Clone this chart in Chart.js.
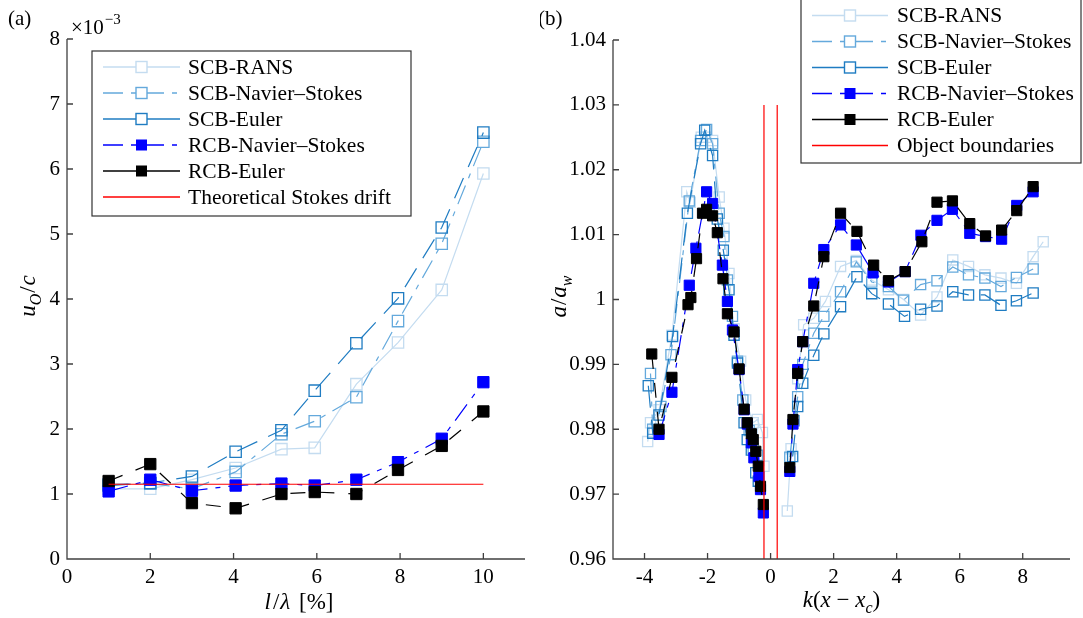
<!DOCTYPE html>
<html>
<head>
<meta charset="utf-8">
<script src="https://cdn.jsdelivr.net/npm/chart.js@4.4.1/dist/chart.umd.min.js"></script>
<style>
  html, body { margin: 0; padding: 0; background: #fff; }
  #wrap { position: relative; width: 1083px; height: 618px; }
  canvas { position: absolute; top: 0; }
  #panelA { left: 0; }
  #panelB { left: 540px; }
</style>
</head>
<body>
<div id="wrap">
  <canvas id="panelA" width="540" height="618"></canvas>
  <canvas id="panelB" width="543" height="618"></canvas>
</div>
<script>
// ---------- panel (a): drift velocity u_O/c (x 1e-3) vs l/lambda [%] ----------
const lenA    = [1, 2, 3, 4.05, 5.15, 5.95, 6.95, 7.95, 9, 10];
const ransA   = [1.08, 1.08, 1.22, 1.40, 1.69, 1.71, 2.69, 3.33, 4.14, 5.93];
const scbNsA  = [1.15, 1.16, 1.08, 1.34, 1.92, 2.12, 2.49, 3.66, 4.85, 6.42];
const scbEuA  = [1.13, 1.17, 1.27, 1.65, 1.98, 2.59, 3.32, 4.01, 5.10, 6.56];
const rcbNsA  = [1.04, 1.22, 1.05, 1.13, 1.16, 1.13, 1.22, 1.49, 1.85, 2.72];
const rcbEuA  = [1.20, 1.46, 0.86, 0.78, 1.00, 1.03, 1.00, 1.37, 1.74, 2.27];
const stokesX = [1, 10];
const stokesY = [1.15, 1.15];
const xTicksA = [0, 2, 4, 6, 8, 10];
const yTicksA = [0, 1, 2, 3, 4, 5, 6, 7, 8];

// ---------- panel (b): a/a_w vs k(x - x_c) ----------
// null = gap across the object
const ransBx  = [-3.90, -3.81, -3.54, -3.13, -2.66, -2.55, -2.20, -2.06, -1.84, -1.63, -1.48, -1.32, -1.16, -0.95, -0.79, -0.55, -0.42, -0.26, -0.21, 0,
                 0.53, 0.65, 0.86, 1.05, 1.37, 1.74, 2.22, 2.72, 3.21, 3.74, 4.22, 4.76, 5.28, 5.78, 6.28, 6.80, 7.31, 7.80, 8.33, 8.65];
const ransBy  = [0.9781, 0.9810, 0.9830, 0.9945, 1.0166, 1.0150, 1.0250, 1.0250, 1.0245, 1.0158, 1.0110, 1.0040, 0.9955, 0.9905, 0.9845, 0.9810, 0.9815, 0.9795, 0.9743, null,
                 0.9674, 0.9770, 0.9878, 0.9961, 0.9971, 0.9997, 1.0051, 1.0060, 1.0030, 1.0015, 1.0000, 0.9976, 1.0004, 1.0061, 1.0051, 1.0038, 1.0033, 1.0025, 1.0066, 1.0089];

const scbNsBx = [-3.81, -3.74, -3.48, -3.16, -2.58, -2.22, -2.03, -1.84, -1.63, -1.48, -1.37, -1.21, -1.05, -0.88, -0.68, -0.55, -0.42, 0,
                 0.61, 0.75, 0.86, 1.02, 1.37, 1.69, 2.22, 2.72, 3.21, 3.74, 4.22, 4.76, 5.28, 5.78, 6.28, 6.80, 7.31, 7.80, 8.33];
const scbNsBy = [0.9886, 0.9800, 0.9835, 0.9915, 1.0152, 1.0245, 1.0262, 1.0240, 1.0133, 1.0097, 1.0030, 0.9974, 0.9905, 0.9845, 0.9798, 0.9770, 0.9760, null,
                 0.9757, 0.9813, 0.9850, 0.9900, 0.9948, 0.9974, 1.0012, 1.0058, 1.0027, 1.0020, 0.9999, 1.0023, 1.0029, 1.0050, 1.0038, 1.0033, 1.0020, 1.0034, 1.0047];

const scbEuBx = [-3.88, -3.74, -3.54, -3.11, -2.64, -2.22, -2.09, -1.84, -1.69, -1.50, -1.32, -1.16, -1.05, -0.84, -0.74, -0.61, -0.47, -0.39, 0,
                 0.70, 0.86, 1.02, 1.37, 1.69, 2.22, 2.74, 3.21, 3.74, 4.25, 4.76, 5.28, 5.78, 6.28, 6.80, 7.31, 7.80, 8.33];
const scbEuBy = [0.9867, 0.9794, 0.9822, 0.9943, 1.0133, 1.0240, 1.0261, 1.0222, 1.0124, 1.0076, 1.0015, 0.9945, 0.9902, 0.9810, 0.9784, 0.9768, 0.9733, 0.9720, null,
                 0.9758, 0.9835, 0.9871, 0.9914, 0.9947, 0.9989, 1.0035, 1.0009, 0.9993, 0.9974, 0.9985, 0.9990, 1.0012, 1.0007, 1.0007, 0.9991, 0.9998, 1.0010];

const rcbNsBx = [-3.54, -3.13, -2.58, -2.37, -2.03, -1.84, -1.53, -1.37, -1.21, -1.00, -0.84, -0.74, -0.61, -0.53, -0.37, -0.32, -0.23, 0,
                 0.61, 0.71, 0.86, 1.02, 1.37, 1.69, 2.22, 2.72, 3.25, 3.74, 4.27, 4.77, 5.28, 5.77, 6.32, 6.82, 7.33, 7.81, 8.33];
const rcbNsBy = [0.9792, 0.9857, 1.0022, 1.0079, 1.0166, 1.0148, 1.0053, 0.9997, 0.9953, 0.9892, 0.9830, 0.9808, 0.9779, 0.9756, 0.9727, 0.9707, 0.9671, null,
                 0.9735, 0.9808, 0.9892, 0.9935, 1.0025, 1.0077, 1.0115, 1.0084, 1.0041, 1.0027, 1.0043, 1.0099, 1.0122, 1.0139, 1.0102, 1.0097, 1.0093, 1.0145, 1.0166];

const rcbEuBx = [-3.77, -3.54, -3.13, -2.62, -2.53, -2.35, -2.16, -2.03, -1.84, -1.69, -1.51, -1.37, -1.16, -1.00, -0.84, -0.74, -0.61, -0.55, -0.47, -0.39, -0.32, -0.23, 0,
                 0.61, 0.71, 0.86, 1.02, 1.37, 1.69, 2.22, 2.74, 3.27, 3.74, 4.27, 4.80, 5.28, 5.77, 6.32, 6.82, 7.33, 7.81, 8.33];
const rcbEuBy = [0.9916, 0.9800, 0.9880, 0.9992, 1.0003, 1.0063, 1.0133, 1.0139, 1.0129, 1.0103, 1.0032, 0.9978, 0.9950, 0.9893, 0.9831, 0.9810, 0.9793, 0.9784, 0.9766, 0.9743, 0.9712, 0.9684, null,
                 0.9741, 0.9815, 0.9886, 0.9935, 0.9990, 1.0066, 1.0133, 1.0105, 1.0053, 1.0029, 1.0043, 1.0089, 1.0150, 1.0152, 1.0117, 1.0098, 1.0107, 1.0137, 1.0174];

const boundX  = [-0.21, -0.21, 0, 0.21, 0.21];
const boundY  = [0.96, 1.03, null, 1.03, 0.96];
const xTicksB = [-4, -2, 0, 2, 4, 6, 8];
const yTicksB = [0.96, 0.97, 0.98, 0.99, 1, 1.01, 1.02, 1.03, 1.04];

const cRans = '#c4dcf0';
const cNs   = '#64a9dc';
const cEu   = '#1f7cc2';
const cRcbNs = '#0000ff';
const cRcbEu = '#000000';
const cRed  = '#ff0000';
const dashDot = [20, 8, 5, 8];
const FONT = '"Liberation Serif", "DejaVu Serif", serif';

function pts(xs, ys) {
    return xs.map((x, i) => ({ x: x, y: ys[i] }));
}

function series(label, xs, ys, color, filled, dash, legendDash, order, r) {
    return {
        label: label,
        data: pts(xs, ys),
        borderColor: color,
        backgroundColor: color,
        borderWidth: 1.2,
        borderDash: dash,
        legendDash: legendDash,
        pointStyle: 'rect',
        pointRadius: r,
        pointBorderWidth: filled ? 1 : 1.3,
        pointBackgroundColor: filled ? color : 'rgba(0,0,0,0)',
        pointBorderColor: color,
        filledMark: filled,
        tension: 0,
        order: order
    };
}

function redLine(label, xs, ys) {
    return {
        label: label,
        data: pts(xs, ys),
        borderColor: cRed,
        borderWidth: 1.2,
        pointRadius: 0,
        legendDash: [],
        noMark: true,
        order: 0
    };
}

// draw a math-ish label made of parts {t, it, sub}
function drawMath(ctx, parts, x, y, size, rot) {
    ctx.save();
    ctx.translate(x, y);
    if (rot) ctx.rotate(rot);
    const fontOf = p => (p.it ? 'italic ' : '') + (p.sub ? Math.round(size * 0.7) : size) + 'px ' + FONT;
    let w = 0;
    parts.forEach(p => { ctx.font = fontOf(p); w += ctx.measureText(p.t).width; });
    let cx = -w / 2;
    ctx.fillStyle = '#000';
    ctx.textAlign = 'left';
    ctx.textBaseline = 'alphabetic';
    parts.forEach(p => {
        ctx.font = fontOf(p);
        ctx.fillText(p.t, cx, p.sub ? size * 0.25 : 0);
        cx += ctx.measureText(p.t).width + (p.gap || 0);
    });
    ctx.restore();
}

const decor = {
    id: 'decor',
    afterDraw(chart, args, o) {
        const ctx = chart.ctx;
        const a = chart.chartArea;
        const sx = chart.scales.x, sy = chart.scales.y;
        ctx.save();
        // axes (box off) with inward ticks
        ctx.strokeStyle = '#404040';
        ctx.lineWidth = 1.3;
        ctx.setLineDash([]);
        ctx.beginPath();
        ctx.moveTo(a.left, a.top);
        ctx.lineTo(a.left, a.bottom);
        ctx.lineTo(a.right, a.bottom);
        sx.ticks.forEach(t => {
            const p = sx.getPixelForValue(t.value);
            ctx.moveTo(p, a.bottom);
            ctx.lineTo(p, a.bottom - 6);
        });
        sy.ticks.forEach(t => {
            const p = sy.getPixelForValue(t.value);
            ctx.moveTo(a.left, p);
            ctx.lineTo(a.left + 6, p);
        });
        ctx.stroke();

        // axis titles
        drawMath(ctx, o.xTitle, (a.left + a.right) / 2, o.xTitleY, 23, 0);
        drawMath(ctx, o.yTitle, o.yTitleX, (a.top + a.bottom) / 2 - 2, 23, -Math.PI / 2);

        // panel letter
        ctx.fillStyle = '#000';
        ctx.font = '21px ' + FONT;
        ctx.textAlign = 'left';
        ctx.textBaseline = 'alphabetic';
        ctx.fillText(o.letter, o.letterX, 25);

        if (o.expo) {
            ctx.font = '21px ' + FONT;
            ctx.fillText('\u00d710', 71, 34);
            const w = ctx.measureText('\u00d710').width;
            ctx.font = '15px ' + FONT;
            ctx.fillText('\u22123', 71 + w + 1, 24);
        }

        // legend
        const lg = o.legend;
        ctx.fillStyle = '#fff';
        ctx.fillRect(lg.x1, lg.y1, lg.x2 - lg.x1, lg.y2 - lg.y1);
        ctx.strokeStyle = '#333';
        ctx.lineWidth = 1.2;
        ctx.strokeRect(lg.x1, lg.y1, lg.x2 - lg.x1, lg.y2 - lg.y1);
        chart.data.datasets.forEach((ds, i) => {
            const y = lg.rowY + i * lg.step;
            ctx.strokeStyle = ds.borderColor;
            ctx.lineWidth = 1.4;
            ctx.setLineDash(ds.legendDash || []);
            ctx.beginPath();
            ctx.moveTo(lg.lx1, y);
            ctx.lineTo(lg.lx2, y);
            ctx.stroke();
            ctx.setLineDash([]);
            if (!ds.noMark) {
                const m = (lg.lx1 + lg.lx2) / 2, s = lg.ms;
                if (ds.filledMark) {
                    ctx.fillStyle = ds.borderColor;
                    ctx.fillRect(m - s / 2, y - s / 2, s, s);
                } else {
                    ctx.fillStyle = '#fff';
                    ctx.fillRect(m - s / 2, y - s / 2, s, s);
                    ctx.lineWidth = 1.4;
                    ctx.strokeRect(m - s / 2, y - s / 2, s, s);
                }
            }
            ctx.fillStyle = '#000';
            ctx.font = lg.size + 'px ' + FONT;
            ctx.textBaseline = 'middle';
            ctx.fillText(ds.label, lg.tx, y + 1);
        });
        ctx.restore();
    }
};

function scales(xmin, xmax, ymin, ymax, xt, yt, yw, xh) {
    const tickFont = { family: FONT, size: 21 };
    return {
        x: {
            type: 'linear', min: xmin, max: xmax,
            grid: { display: false, drawTicks: false }, border: { display: false },
            afterBuildTicks: s => { s.ticks = xt.map(v => ({ value: v })); },
            afterFit: s => { s.height = xh; },
            ticks: { font: tickFont, color: '#000', padding: 6, maxRotation: 0, callback: v => String(v) }
        },
        y: {
            type: 'linear', min: ymin, max: ymax,
            grid: { display: false, drawTicks: false }, border: { display: false },
            afterBuildTicks: s => { s.ticks = yt.map(v => ({ value: v })); },
            afterFit: s => { s.width = yw; },
            ticks: { font: tickFont, color: '#000', padding: 7, callback: v => String(v) }
        }
    };
}

const chartA = new Chart('panelA', {
    type: 'line',
    data: {
        datasets: [
            series('SCB-RANS', lenA, ransA, cRans, false, [], [], 5, 8),
            series('SCB-Navier\u2013Stokes', lenA, scbNsA, cNs, false, dashDot, dashDot, 4, 8),
            series('SCB-Euler', lenA, scbEuA, cEu, false, [22, 12], [], 3, 8),
            series('RCB-Navier\u2013Stokes', lenA, rcbNsA, cRcbNs, true, dashDot, dashDot, 2, 8),
            series('RCB-Euler', lenA, rcbEuA, cRcbEu, true, [15, 14], [], 1, 8),
            redLine('Theoretical Stokes drift', stokesX, stokesY)
        ]
    },
    options: {
        responsive: false,
        animation: false,
        layout: { padding: { left: 0, top: 39, right: 15, bottom: 0 } },
        scales: scales(0, 11, 0, 8, xTicksA, yTicksA, 67, 59),
        plugins: {
            legend: { display: false },
            tooltip: { enabled: false },
            decor: {
                letter: '(a)', letterX: 8, expo: true,
                xTitle: [{ t: 'l', it: true, gap: 2 }, { t: '/', gap: 1 }, { t: '\u03bb', it: true, gap: 3 }, { t: ' [%]' }],
                xTitleY: 609,
                yTitle: [{ t: 'u', it: true }, { t: 'O', it: true, sub: true, gap: 1 }, { t: '/', gap: 1 }, { t: 'c', it: true }],
                yTitleX: 35,
                legend: { x1: 92, y1: 51, x2: 411, y2: 216, lx1: 103, lx2: 180, tx: 188, rowY: 67, step: 26, ms: 11, size: 21.5 }
            }
        }
    },
    plugins: [decor]
});

const chartB = new Chart('panelB', {
    type: 'line',
    data: {
        datasets: [
            series('SCB-RANS', ransBx, ransBy, cRans, false, [], [], 5, 7.2),
            series('SCB-Navier\u2013Stokes', scbNsBx, scbNsBy, cNs, false, dashDot, dashDot, 4, 7.2),
            series('SCB-Euler', scbEuBx, scbEuBy, cEu, false, [22, 12], [], 3, 7.2),
            series('RCB-Navier\u2013Stokes', rcbNsBx, rcbNsBy, cRcbNs, true, dashDot, dashDot, 2, 7.2),
            series('RCB-Euler', rcbEuBx, rcbEuBy, cRcbEu, true, [15, 14], [], 1, 7.2),
            redLine('Object boundaries', boundX, boundY)
        ]
    },
    options: {
        responsive: false,
        animation: false,
        layout: { padding: { left: 0, top: 40, right: 13, bottom: 0 } },
        scales: scales(-5, 9.5, 0.96, 1.04, xTicksB, yTicksB, 73, 59),
        plugins: {
            legend: { display: false },
            tooltip: { enabled: false },
            decor: {
                letter: '(b)', letterX: -2, expo: false,
                xTitle: [{ t: 'k', it: true }, { t: '(' }, { t: 'x', it: true }, { t: ' \u2212 ' }, { t: 'x', it: true }, { t: 'c', it: true, sub: true }, { t: ')' }],
                xTitleY: 607,
                yTitle: [{ t: 'a', it: true, gap: 1 }, { t: '/', gap: 1 }, { t: 'a', it: true }, { t: 'w', it: true, sub: true }],
                yTitleX: 26,
                legend: { x1: 261, y1: -2, x2: 541, y2: 163, lx1: 272, lx2: 348, tx: 357, rowY: 15.5, step: 26, ms: 11, size: 21.5 }
            }
        }
    },
    plugins: [decor]
});
</script>
</body>
</html>
